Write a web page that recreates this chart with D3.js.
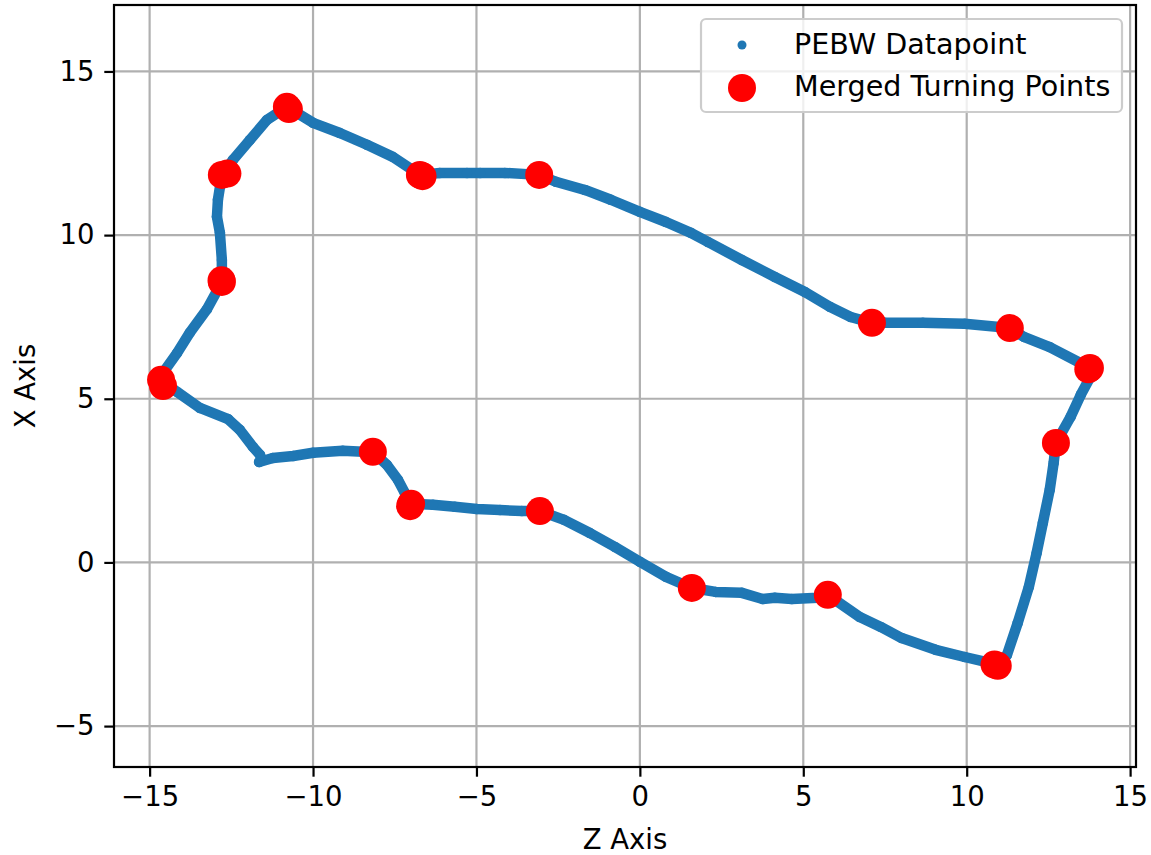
<!DOCTYPE html>
<html><head><meta charset="utf-8">
<script src="https://cdn.jsdelivr.net/npm/d3@7"></script>
<style>body{margin:0;background:#fff}svg{display:block}text{font-family:"DejaVu Sans",sans-serif}</style>
</head><body>
<script>
// PEBW datapoints (Z, X) read along the trajectory
const pathZ = [-11.65,-11.23,-10.61,-10.00,-9.09,-8.47,-8.17,-7.74,-7.40,-7.19,-7.00,-6.33,-5.66,-4.99,-4.28,-3.61,-3.06,-2.32,-1.53,-0.76,0.00,0.80,1.59,2.32,3.12,3.76,4.13,4.65,5.45,5.75,6.73,7.37,8.01,9.05,9.94,10.58,10.95,11.23,11.56,11.90,12.14,12.33,12.54,12.66,12.73,13.18,13.49,13.77,13.77,12.54,11.75,11.32,9.94,8.66,7.49,7.10,6.45,5.81,5.05,4.13,3.12,2.08,1.56,0.80,0.00,-0.89,-1.68,-2.57,-3.09,-4.13,-4.89,-5.29,-6.12,-6.73,-7.56,-8.35,-9.18,-10.00,-10.80,-11.41,-11.93,-12.45,-12.79,-12.91,-12.94,-12.85,-12.79,-12.79,-13.25,-13.77,-14.16,-14.53,-14.65,-14.16,-13.46,-12.60,-12.24,-11.84,-11.62];
const pathX = [3.07,3.19,3.25,3.35,3.41,3.38,3.38,2.98,2.52,2.12,1.79,1.76,1.70,1.63,1.60,1.57,1.57,1.30,0.90,0.47,0.02,-0.44,-0.78,-0.90,-0.93,-1.12,-1.08,-1.12,-1.08,-0.99,-1.67,-1.97,-2.31,-2.67,-2.89,-3.04,-3.16,-2.83,-1.85,-0.75,0.29,1.21,2.22,3.04,3.65,4.45,5.12,5.64,5.94,6.58,6.89,7.16,7.29,7.32,7.32,7.32,7.50,7.81,8.26,8.72,9.24,9.79,10.07,10.40,10.71,11.08,11.38,11.63,11.84,11.90,11.90,11.90,11.90,11.84,12.39,12.76,13.12,13.43,13.92,13.52,12.91,12.30,11.84,11.08,10.56,10.07,9.24,8.57,7.73,7.02,6.40,5.88,5.58,5.21,4.72,4.38,4.05,3.53,3.28];
// Merged turning points
const turnZ = [-10.80,-10.74,-12.79,-12.62,-6.73,-6.65,-3.08,7.10,11.32,13.77,13.72,12.73,10.95,10.85,5.75,1.59,-3.06,-7.00,-7.03,-8.17,-14.65,-14.59,-12.79,-12.80];
const turnX = [13.92,13.85,11.84,11.88,11.84,11.80,11.84,7.32,7.16,5.94,5.90,3.65,-3.16,-3.12,-0.99,-0.78,1.57,1.79,1.72,3.38,5.58,5.39,8.57,8.62];
const ticks = [-15,-10,-5,0,5,10,15];
const yTicks = [-5,0,5,10,15];
const seriesNames = ["PEBW Datapoint","Merged Turning Points"];

const W=1151,H=855;
const L=114,R=1136,T=5,B=767;
const svg=d3.select("body").append("svg").attr("width",W).attr("height",H);
const x=d3.scaleLinear().domain([-16.09,15.18]).range([L,R]);
const y=d3.scaleLinear().domain([-6.25,17.03]).range([B,T]);
const FS=27.5, LFS=28.6, LW=2.2, blue="#1f77b4";

// grid
const g=svg.append("g");
g.selectAll(".gx").data(ticks).enter().append("line")
 .attr("x1",d=>x(d)).attr("x2",d=>x(d)).attr("y1",T).attr("y2",B)
 .attr("stroke","#b0b0b0").attr("stroke-width",LW);
g.selectAll(".gy").data(yTicks).enter().append("line")
 .attr("y1",d=>y(d)).attr("y2",d=>y(d)).attr("x1",L).attr("x2",R)
 .attr("stroke","#b0b0b0").attr("stroke-width",LW);

// datapoints
const pts=pathZ.map((z,i)=>[z,pathX[i]]);
svg.append("path").datum(pts)
 .attr("d",d3.line().x(d=>x(d[0])).y(d=>y(d[1])))
 .attr("fill","none").attr("stroke",blue).attr("stroke-width",10.5)
 .attr("stroke-linejoin","round").attr("stroke-linecap","round");
svg.selectAll(".pd").data(pts).enter().append("circle")
 .attr("cx",d=>x(d[0])).attr("cy",d=>y(d[1])).attr("r",5.25).attr("fill",blue);

// turning points
svg.selectAll(".tp").data(turnZ.map((z,i)=>[z,turnX[i]])).enter().append("circle")
 .attr("cx",d=>x(d[0])).attr("cy",d=>y(d[1])).attr("r",14).attr("fill","red");

// axes
const xa=svg.append("g").attr("transform",`translate(0,${B})`)
 .call(d3.axisBottom(x).tickValues(ticks).tickSize(9.7).tickPadding(9.7).tickFormat(d=>d<0?"\u2212"+Math.abs(d):d));
const ya=svg.append("g").attr("transform",`translate(${L},0)`)
 .call(d3.axisLeft(y).tickValues(yTicks).tickSize(9.7).tickPadding(9.7).tickFormat(d=>d<0?"\u2212"+Math.abs(d):d));
[xa,ya].forEach(a=>{
 a.select(".domain").remove();
 a.selectAll("line").attr("stroke","#000").attr("stroke-width",LW);
 a.selectAll("text").attr("font-size",FS).attr("font-family","DejaVu Sans").attr("fill","#000");
});
xa.selectAll("text").attr("dy","0.71em");
svg.append("rect").attr("x",L).attr("y",T).attr("width",R-L).attr("height",B-T)
 .attr("fill","none").attr("stroke","#000").attr("stroke-width",LW);

// axis labels
svg.append("text").attr("x",(L+R)/2).attr("y",849).attr("text-anchor","middle")
 .attr("font-size",FS).text("Z Axis");
svg.append("text").attr("transform",`translate(35,${(T+B)/2}) rotate(-90)`)
 .attr("text-anchor","middle").attr("font-size",FS).text("X Axis");

// legend
const lg=svg.append("g");
lg.append("rect").attr("x",701).attr("y",19).attr("width",421).attr("height",93).attr("rx",5)
 .attr("fill","rgba(255,255,255,0.8)").attr("stroke","#cccccc").attr("stroke-width",2.2);
lg.append("circle").attr("cx",742).attr("cy",45).attr("r",4.5).attr("fill",blue);
lg.append("circle").attr("cx",742).attr("cy",88).attr("r",14).attr("fill","red");
lg.append("text").attr("x",794).attr("y",44).attr("dy","0.35em").attr("font-size",LFS).text(seriesNames[0]);
lg.append("text").attr("x",794).attr("y",86).attr("dy","0.35em").attr("font-size",LFS).text(seriesNames[1]);
</script>
</body></html>
